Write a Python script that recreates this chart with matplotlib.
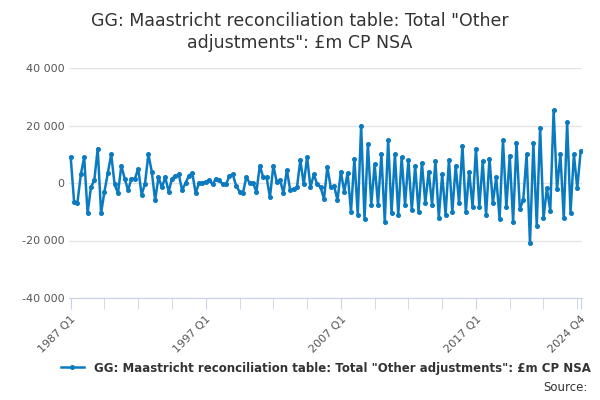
import matplotlib
matplotlib.use("Agg")
import matplotlib.pyplot as plt
import numpy as np

years = list(range(1987, 2025))
values = [
    9000, -6500, -6800, 3000,
    9000, -10500, -1500, 1000,
    12000, -10500, -3000, 3500,
    10000, -500, -3500, 6000,
    1500, -2500, 1500, 1500,
    5000, -4000, -300, 10000,
    4000, -6000, 2000, -1500,
    2000, -3000, 1500, 2500,
    3000, -2500, 0, 2500,
    3500, -3500, 0, 0,
    500, 1000, -500, 1500,
    1000, -500, -500, 2500,
    3000, -1000, -3000, -3500,
    2000, 0, 0, -3000,
    6000, 2000, 2000, -5000,
    6000, 500, 1000, -3500,
    4500, -2500, -2000, -1500,
    8000, -500, 9000, -1500,
    3000, -500, -1500, -5500,
    5500, -1500, -1000, -6000,
    4000, -3000, 3500, -10000,
    8500, -11000, 20000, -12500,
    13500, -7500, 6500, -7500,
    10000, -13500, 15000, -10500,
    10000, -11000, 9000, -7500,
    8000, -9500, 6000, -10000,
    7000, -7000, 4000, -7500,
    7500, -12000, 3000, -11000,
    8000, -10000, 6000, -7000,
    13000, -10000, 4000, -8500,
    12000, -8500, 7500, -11000,
    8500, -7000, 2000, -12500,
    15000, -8500, 9500, -13500,
    14000, -9000, -6000, 10000,
    -21000, 13800, -14800, 19200,
    -12300, -1900, -9700, 25400,
    -2200, 10000, -12300, 21100,
    -10300, 10000, -1900, 11100,
]
labels = [f"{y} Q{q}" for y in years for q in range(1, 5)]
tick_labels = ["1987 Q1", "1997 Q1", "2007 Q1", "2017 Q1", "2024 Q4"]

color = "#0b7bc1"
fig = plt.figure(figsize=(6, 4), dpi=100)
ax = fig.add_axes([0.115, 0.255, 0.855, 0.575])
x = np.arange(len(values))
ax.plot(x, values, color=color, lw=1.8, marker="o", ms=2.6)
ax.set_ylim(-40000, 40000)
ax.set_xlim(-0.5, len(values) - 0.6)
ax.set_yticks([-40000, -20000, 0, 20000, 40000])
ax.set_yticklabels([f"{v:,}".replace(",", " ").replace("-", "-") for v in [-40000, -20000, 0, 20000, 40000]],
                   fontsize=8, color="#555555")
ax.yaxis.grid(True, color="#e3e3e3", lw=0.9)
ax.set_axisbelow(True)
major = [labels.index(t) for t in tick_labels]
minor = list(range(0, len(values), 10))
ax.set_xticks(major)
ax.set_xticklabels(tick_labels, rotation=45, ha="right", fontsize=8, color="#555555",
                   rotation_mode="anchor")
ax.set_xticks(minor, minor=True)
ax.tick_params(axis="x", which="both", length=8, color="#c8d2e6")
ax.tick_params(axis="y", length=0)
for s in ["top", "right", "left"]:
    ax.spines[s].set_visible(False)
ax.spines["bottom"].set_color("#c8d2e6")

fig.text(0.5, 0.97, 'GG: Maastricht reconciliation table: Total "Other\nadjustments": £m CP NSA',
         ha="center", va="top", fontsize=12.5, color="#333333", linespacing=1.3)
ax.legend(['GG: Maastricht reconciliation table: Total "Other adjustments": £m CP NSA'],
          loc="upper center", bbox_to_anchor=(0.5, -0.23), frameon=False,
          prop={"size": 8.5, "weight": "bold"}, labelcolor="#333333", handlelength=2)
fig.text(0.98, 0.015, "Source:", ha="right", va="bottom", fontsize=8.5, color="#333333")
fig.savefig("out.png", dpi=100)
